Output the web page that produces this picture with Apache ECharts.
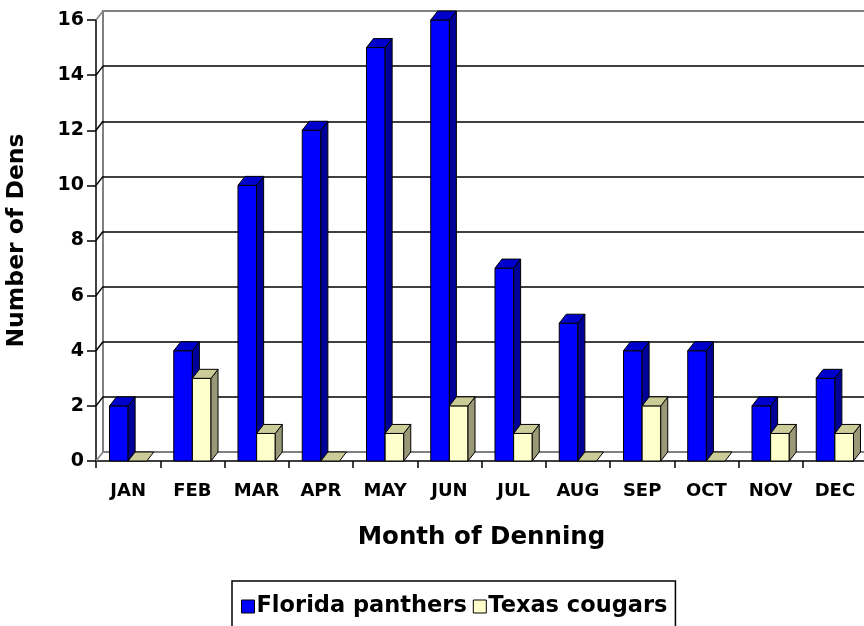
<!DOCTYPE html>
<html>
<head>
<meta charset="utf-8">
<script src="https://cdn.jsdelivr.net/npm/echarts@6/dist/echarts.min.js"></script>
<style>
html, body { margin: 0; padding: 0; background: #fff; }
#main { width: 864px; height: 626px; }
</style>
</head>
<body>
<div id="main"></div>
<script>
// data
var months = ['JAN', 'FEB', 'MAR', 'APR', 'MAY', 'JUN', 'JUL', 'AUG', 'SEP', 'OCT', 'NOV', 'DEC'];
var floridaPanthers = [2, 4, 10, 12, 15, 16, 7, 5, 4, 4, 2, 3];
var texasCougars = [0, 3, 1, 0, 1, 2, 1, 0, 2, 0, 1, 1];
var yTicks = [0, 2, 4, 6, 8, 10, 12, 14, 16];

var FONT = '"DejaVu Sans", Arial, sans-serif';
// 3d depth offset (px)
var DX = 7, DY = -9;

var myChart = echarts.init(document.getElementById('main'));

// 3d bar: front face, top face, side face
function bar3d(colors, side) {
    return function (params, api) {
        var i = api.value(0);
        var v = api.value(1);
        var c = api.coord([i, v]);
        var base = api.coord([i, 0]);
        var w = api.size([1, 0])[0] * 0.29;
        var x0 = side === 0 ? c[0] - w : c[0];
        var yT = c[1], yB = base[1];
        var children = [];
        if (v > 0) {
            children.push({
                type: 'rect',
                shape: { x: x0, y: yT, width: w, height: yB - yT },
                style: { fill: colors[0], stroke: '#000', lineWidth: 1 }
            });
            children.push({
                type: 'polygon',
                shape: { points: [[x0 + w, yT], [x0 + w + DX, yT + DY], [x0 + w + DX, yB + DY], [x0 + w, yB]] },
                style: { fill: colors[2], stroke: '#000', lineWidth: 1 }
            });
        }
        children.push({
            type: 'polygon',
            shape: { points: [[x0, yT], [x0 + w, yT], [x0 + w + DX, yT + DY], [x0 + DX, yT + DY]] },
            style: { fill: colors[1], stroke: '#000', lineWidth: 1 }
        });
        return { type: 'group', children: children };
    };
}

var option = {
    backgroundColor: '#fff',
    animation: false,
    textStyle: { fontFamily: FONT },
    grid: [
        // front plane
        { left: 96, top: 20, width: 771, height: 441, outerBoundsMode: 'none', containLabel: false },
        // back wall
        { left: 96 + DX, top: 20 + DY, width: 771, height: 441, outerBoundsMode: 'none', containLabel: false,
          show: true, borderColor: '#808080', borderWidth: 2, backgroundColor: 'transparent' }
    ],
    xAxis: [
        {
            gridIndex: 0,
            type: 'category',
            data: months,
            name: 'Month of Denning',
            nameLocation: 'middle',
            nameGap: 64,
            nameTextStyle: { fontSize: 24.5, fontWeight: 'bold', color: '#000', fontFamily: FONT },
            axisLine: { lineStyle: { color: '#000', width: 1.5 } },
            axisTick: { show: true, length: 7, lineStyle: { color: '#000', width: 1.5 } },
            axisLabel: { margin: 21, color: '#000', fontSize: 18, fontWeight: 'bold', fontFamily: FONT },
            splitLine: { show: false }
        },
        {
            gridIndex: 1,
            type: 'category',
            data: months,
            show: false
        }
    ],
    yAxis: [
        {
            gridIndex: 0,
            type: 'value',
            min: 0,
            max: 16,
            interval: 2,
            name: 'Number of Dens',
            nameLocation: 'middle',
            nameRotate: 90,
            nameGap: 67,
            nameTextStyle: { fontSize: 23.5, fontWeight: 'bold', color: '#000', fontFamily: FONT },
            axisLine: { show: true, lineStyle: { color: '#000', width: 1.5 } },
            axisTick: { show: true, length: 9, lineStyle: { color: '#000', width: 1.5 } },
            axisLabel: { margin: 12, color: '#000', fontSize: 19, fontWeight: 'bold', fontFamily: FONT },
            splitLine: { show: false }
        },
        {
            gridIndex: 1,
            type: 'value',
            min: 0,
            max: 16,
            interval: 2,
            axisLine: { show: false },
            axisTick: { show: false },
            axisLabel: { show: false },
            splitLine: { show: true, showMinLine: false, showMaxLine: false,
                         lineStyle: { color: '#000', width: 1.5 } }
        }
    ],
    legend: {
        left: 232,
        top: 581,
        padding: [14, 8, 13, 9],
        itemGap: 6,
        itemWidth: 13,
        itemHeight: 13,
        icon: 'rect',
        borderColor: '#000',
        borderWidth: 1.5,
        itemStyle: { borderColor: '#000', borderWidth: 1 },
        textStyle: { fontSize: 22.5, fontWeight: 'bold', color: '#000', fontFamily: FONT, padding: [0, 0, 0, -3] },
        data: ['Florida panthers', 'Texas cougars']
    },
    series: [
        // diagonals joining the front axis ticks to the back wall
        {
            type: 'custom',
            xAxisIndex: 0,
            yAxisIndex: 0,
            silent: true,
            data: yTicks.map(function (t) { return [0, t]; }),
            renderItem: function (params, api) {
                var v = api.value(1);
                var p = api.coord([0, v]);
                var x = params.coordSys.x;
                var edge = (v === yTicks[0] || v === yTicks[yTicks.length - 1]);
                return {
                    type: 'line',
                    shape: { x1: x, y1: p[1], x2: x + DX, y2: p[1] + DY },
                    style: { stroke: edge ? '#808080' : '#000', lineWidth: 1.5 }
                };
            },
            clip: false,
            z: 1
        },
        {
            name: 'Florida panthers',
            type: 'custom',
            xAxisIndex: 0,
            yAxisIndex: 0,
            itemStyle: { color: '#0000ff' },
            data: floridaPanthers.map(function (v, i) { return [i, v]; }),
            renderItem: bar3d(['#0000ff', '#0000cc', '#000099'], 0),
            clip: false,
            z: 3
        },
        {
            name: 'Texas cougars',
            type: 'custom',
            xAxisIndex: 0,
            yAxisIndex: 0,
            itemStyle: { color: '#ffffcc' },
            data: texasCougars.map(function (v, i) { return [i, v]; }),
            renderItem: bar3d(['#ffffcc', '#cccc99', '#999977'], 1),
            clip: false,
            z: 3
        }
    ]
};

myChart.setOption(option);
</script>
</body>
</html>
